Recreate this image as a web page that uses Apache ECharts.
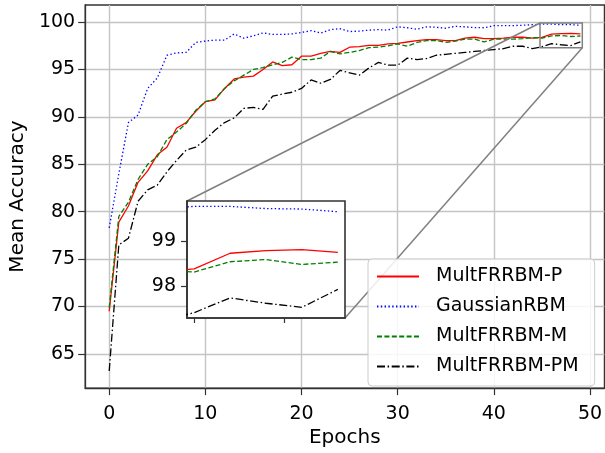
<!DOCTYPE html>
<html>
<head>
<meta charset="utf-8">
<title>Mean Accuracy vs Epochs</title>
<script src="https://cdn.jsdelivr.net/npm/echarts@6/dist/echarts.min.js"></script>
<style>
  html, body { margin: 0; padding: 0; background: #fff; }
  #main { width: 605px; height: 453px; }
</style>
</head>
<body>
<div id="main"></div>
<script>
// series values, one per epoch (0..49)
const multFRRBM_P = [69.5, 78.9, 80.6, 83.1, 84.3, 86.0, 86.8, 88.8, 89.4, 90.6,
  91.6, 91.8, 93.0, 94.0, 94.2, 94.3, 95.0, 95.8, 95.4, 95.5,
  96.4, 96.4, 96.7, 96.9, 96.8, 97.35, 97.4, 97.55, 97.55, 97.7,
  97.75, 97.9, 98.05, 98.15, 98.15, 98.05, 98.05, 98.3, 98.4, 98.25,
  98.25, 98.3, 98.4, 98.4, 98.3, 98.38, 98.73, 98.79, 98.81, 98.75];
const gaussianRBM = [78.3, 84.0, 89.4, 90.2, 93.0, 94.1, 96.5, 96.75, 96.8, 97.85,
  98.0, 98.1, 98.1, 98.75, 98.3, 98.55, 98.85, 98.7, 98.7, 98.75,
  98.9, 99.1, 98.85, 99.2, 99.3, 99.0, 99.05, 99.15, 99.2, 99.15,
  99.5, 99.4, 99.25, 99.5, 99.45, 99.35, 99.55, 99.5, 99.42, 99.4,
  99.62, 99.62, 99.63, 99.66, 99.72, 99.78, 99.78, 99.73, 99.72, 99.66];
const multFRRBM_M = [69.9, 79.5, 81.0, 83.4, 85.0, 85.8, 87.6, 88.4, 89.3, 90.7,
  91.6, 91.9, 93.0, 93.8, 94.4, 95.0, 95.2, 95.5, 95.75, 96.3,
  96.05, 96.05, 96.2, 96.9, 96.65, 96.8, 97.0, 97.3, 97.35, 97.5,
  97.7, 97.45, 97.85, 98.05, 98.05, 97.85, 98.0, 98.2, 98.2, 97.9,
  98.2, 98.2, 98.2, 98.25, 98.35, 98.31, 98.54, 98.59, 98.48, 98.53];
const multFRRBM_PM = [63.2, 76.5, 77.2, 81.1, 82.3, 82.8, 84.2, 85.4, 86.5, 86.8,
  87.6, 88.6, 89.4, 89.9, 90.9, 91.0, 90.8, 92.2, 92.4, 92.6,
  93.0, 93.9, 93.55, 93.95, 94.9, 94.65, 94.4, 95.15, 95.75, 95.45,
  95.45, 96.2, 96.05, 96.15, 96.5, 96.6, 96.7, 96.8, 96.9, 97.0,
  97.1, 97.2, 97.45, 97.45, 97.2, 97.4, 97.73, 97.61, 97.52, 97.92];

const seriesNames = ["MultFRRBM-P", "GaussianRBM", "MultFRRBM-M", "MultFRRBM-PM"];

// tick labels
const xTicks = [0, 10, 20, 30, 40, 50];
const yTicks = [65, 70, 75, 80, 85, 90, 95, 100];
const insetXTicks = [45, 47.5];
const insetYTicks = [98, 99];

// zoomed window (also the inset's limits)
const zoomX = [44.8, 49.2];
const zoomY = [97.28, 99.9];

const font = "DejaVu Sans";
const chart = echarts.init(document.getElementById("main"));

// line looks, same as the matplotlib styles '-', ':', '--', '-.'
const lineStyles = [
  { color: "#ff0000", width: 1.3, type: "solid" },
  { color: "#0000ff", width: 1.3, type: [1.4, 2.4] },
  { color: "#008000", width: 1.3, type: [5, 2.4] },
  { color: "#000000", width: 1.3, type: [8, 2.6, 1.5, 2.6] }
];
const allData = [multFRRBM_P, gaussianRBM, multFRRBM_M, multFRRBM_PM];

function makeSeries(gridIdx, z) {
  return allData.map((arr, k) => ({
    name: seriesNames[k],
    type: "line",
    xAxisIndex: gridIdx,
    yAxisIndex: gridIdx,
    data: arr.map((v, i) => [i, v]),
    symbol: "none",
    z: z,
    lineStyle: lineStyles[k],
    itemStyle: { color: lineStyles[k].color },
    emphasis: { disabled: true },
    animation: false
  }));
}

const tickLabel = { color: "#000", fontFamily: font, fontSize: 19 };

const option = {
  backgroundColor: "#fff",
  animation: false,
  grid: [
    { left: 82, top: 5, width: 524, height: 390, show: true,
      borderColor: "#333", borderWidth: 1.3, backgroundColor: "#fff" },
    // inset axes, on top of the main plot
    { left: 187, top: 201, width: 158, height: 117, show: true, z: 5,
      borderColor: "#333", borderWidth: 1.6, backgroundColor: "#fff" }
  ],
  xAxis: [
    {
      type: "value", gridIndex: 0, min: -2.5, max: 51.5,
      name: "Epochs", nameLocation: "middle", nameGap: 35,
      nameTextStyle: { color: "#000", fontFamily: font, fontSize: 20 },
      axisLine: { show: true, onZero: false, lineStyle: { color: "#333", width: 1.3 } },
      axisTick: { show: true, length: 7, customValues: xTicks, lineStyle: { color: "#333", width: 1.2 } },
      axisLabel: Object.assign({ margin: 16, customValues: xTicks }, tickLabel),
      splitLine: { show: true, lineStyle: { color: "#c4c4c4", width: 1.4 } }
    },
    {
      type: "value", gridIndex: 1, min: zoomX[0], max: zoomX[1], z: 6,
      axisLine: { show: true, onZero: false, lineStyle: { color: "#333", width: 1.6 } },
      axisTick: { show: true, length: 5, customValues: insetXTicks, lineStyle: { color: "#333", width: 1.2 } },
      axisLabel: { show: false },
      splitLine: { show: false }
    }
  ],
  yAxis: [
    {
      type: "value", gridIndex: 0, min: 61.4, max: 101.8,
      name: "Mean Accuracy", nameLocation: "middle", nameGap: 54,
      nameTextStyle: { color: "#000", fontFamily: font, fontSize: 20 },
      axisLine: { show: true, onZero: false, lineStyle: { color: "#333", width: 1.3 } },
      axisTick: { show: true, length: 7, customValues: yTicks, lineStyle: { color: "#333", width: 1.2 } },
      axisLabel: Object.assign({ margin: 10, customValues: yTicks }, tickLabel),
      splitLine: { show: true, lineStyle: { color: "#c4c4c4", width: 1.4 } }
    },
    {
      type: "value", gridIndex: 1, min: zoomY[0], max: zoomY[1], z: 6,
      axisLine: { show: true, onZero: false, lineStyle: { color: "#333", width: 1.6 } },
      axisTick: { show: true, length: 6, customValues: insetYTicks, lineStyle: { color: "#333", width: 1.2 } },
      axisLabel: Object.assign({ margin: 11, customValues: insetYTicks }, tickLabel),
      splitLine: { show: false }
    }
  ],
  legend: {
    orient: "vertical",
    left: 368, top: 259,
    z: 10,
    data: seriesNames,
    itemWidth: 42, itemHeight: 14, itemGap: 11,
    // only the line sample, no marker dot
    itemStyle: { opacity: 0 },
    padding: [8, 16, 10, 8],
    backgroundColor: "rgba(255,255,255,0.85)",
    borderColor: "#cccccc", borderWidth: 1, borderRadius: 4,
    selectedMode: false,
    textStyle: { color: "#000", fontFamily: font, fontSize: 19, lineHeight: 19, padding: [0, 0, 0, 12] }
  },
  series: makeSeries(0, 2).concat(makeSeries(1, 7))
};

chart.setOption(option);

// rectangle round the zoomed window and the two connector lines
function drawZoomMarks() {
  const main = { xAxisIndex: 0, yAxisIndex: 0 };
  const inset = { xAxisIndex: 1, yAxisIndex: 1 };
  const tl = chart.convertToPixel(main, [zoomX[0], zoomY[1]]);
  const br = chart.convertToPixel(main, [zoomX[1], zoomY[0]]);
  const insetTl = chart.convertToPixel(inset, [zoomX[0], zoomY[1]]);
  const insetBr = chart.convertToPixel(inset, [zoomX[1], zoomY[0]]);
  const grey = { stroke: "#808080", lineWidth: 1.5, fill: null };
  chart.setOption({
    graphic: [
      { type: "rect", z: 4, silent: true,
        shape: { x: tl[0], y: tl[1], width: br[0] - tl[0], height: br[1] - tl[1] },
        style: grey },
      { type: "line", z: 4, silent: true,
        shape: { x1: tl[0], y1: tl[1], x2: insetTl[0], y2: insetTl[1] }, style: grey },
      { type: "line", z: 4, silent: true,
        shape: { x1: br[0], y1: br[1], x2: insetBr[0], y2: insetBr[1] }, style: grey }
    ]
  });
}
drawZoomMarks();
</script>
</body>
</html>
